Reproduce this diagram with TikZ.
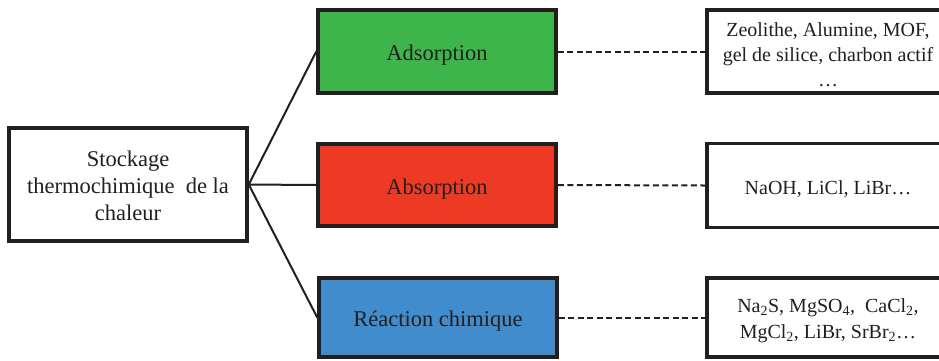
\documentclass[tikz,border=0pt]{standalone}
\usepackage{fontspec}
\setmainfont{Liberation Serif}
\definecolor{boxgreen}{RGB}{62,181,74}
\definecolor{boxred}{RGB}{237,58,36}
\definecolor{boxblue}{RGB}{64,140,204}
\definecolor{ink}{RGB}{35,31,32}
\tikzset{
  frame/.style={draw=ink, line width=3.5pt, rectangle, inner sep=0pt},
  catbox/.style={frame, minimum width=238pt},
  listbox/.style={frame, minimum width=242pt},
  bigtxt/.style={inner sep=0pt, align=center, text=ink, font=\fontsize{22.5}{27}\selectfont},
  smalltxt/.style={inner sep=0pt, align=center, text=ink, font=\fontsize{20}{25}\selectfont},
  link/.style={draw=ink, line width=2pt},
  dlink/.style={draw=ink, line width=2pt, dash pattern=on 6pt off 3.5pt}
}
\begin{document}
\begin{tikzpicture}[x=1pt,y=-1pt]
\path[use as bounding box, clip] (0,0) rectangle (939,360);
\fill[white] (0,0) rectangle (939,360);
% boxes
\node[frame, minimum width=238pt, minimum height=113pt] (root) at (128,184.5) {};
\node[catbox, fill=boxgreen, minimum height=83pt] (ads) at (437,51.5) {};
\node[catbox, fill=boxred, minimum height=82pt] (abs) at (437,185) {};
\node[catbox, fill=boxblue, minimum height=79pt] (rea) at (438,317.5) {};
\node[listbox, minimum height=83pt] (l1) at (828,51.5) {};
\node[listbox, minimum height=84pt] (l2) at (828,185.5) {};
\node[listbox, minimum height=79pt] (l3) at (828,317.5) {};
% texts
\node[bigtxt] (troot) at ([yshift=-1pt]root.center) {Stockage\\thermochimique\ \ de la\\chaleur};
\node[bigtxt] (tads) at ([yshift=-4pt]ads.center) {Adsorption};
\node[bigtxt] (tabs) at ([yshift=-4pt]abs.center) {Absorption};
\node[bigtxt] (trea) at ([yshift=-4pt]rea.center) {R\'eaction chimique};
\node[smalltxt] (tl1) at ([yshift=-3pt]l1.center) {Zeolithe, Alumine, MOF,\\gel de silice, charbon actif\\\ldots};
\node[smalltxt] (tl2) at ([yshift=-4pt]l2.center) {NaOH, LiCl, LiBr\ldots};
\node[smalltxt, font=\fontsize{20}{26}\selectfont] (tl3) at ([yshift=-3pt]l3.center)
  {Na\textsubscript{2}S, MgSO\textsubscript{4}, \ CaCl\textsubscript{2},\\MgCl\textsubscript{2}, LiBr, SrBr\textsubscript{2}\ldots};
% connectors
\draw[link] (root.east) -- (ads.west);
\draw[link] (root.east) -- (abs.west);
\draw[link] (root.east) -- (rea.west);
\draw[dlink] (ads.east) -- (l1.west);
\draw[dlink] (abs.east) -- (l2.west);
\draw[dlink] (rea.east) -- (l3.west);
\end{tikzpicture}
\end{document}
